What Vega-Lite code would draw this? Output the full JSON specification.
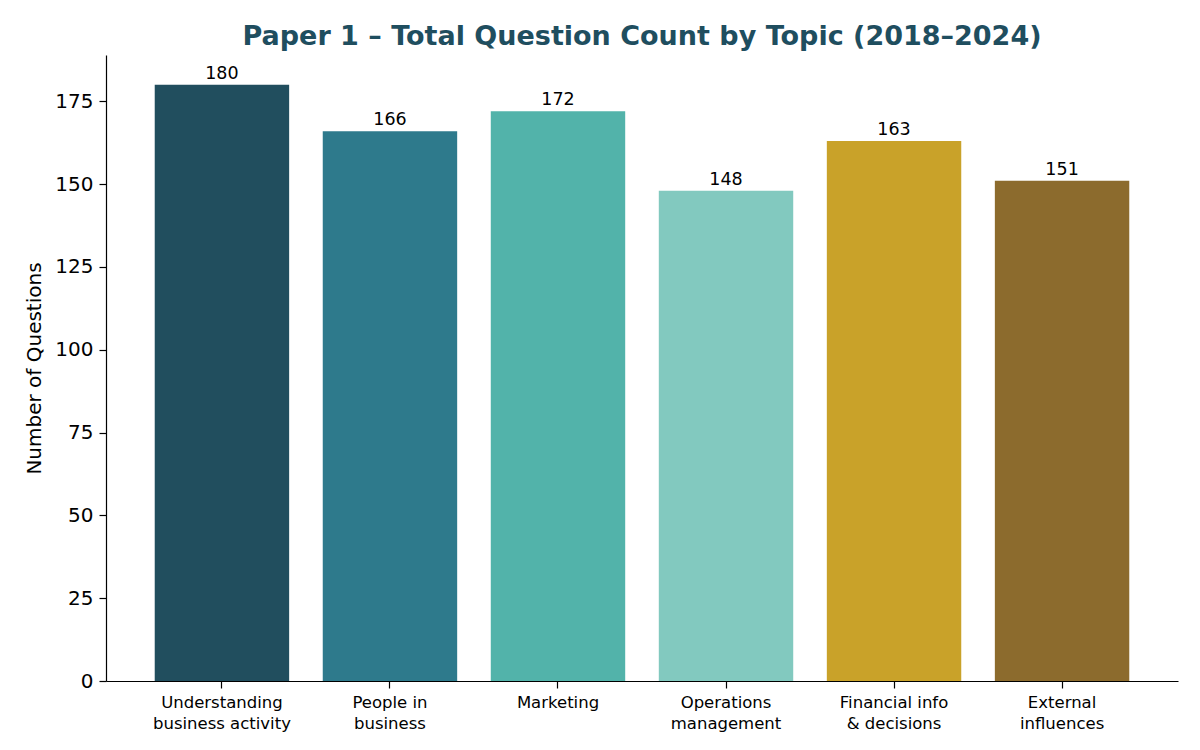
{
  "$schema": "https://vega.github.io/schema/vega-lite/v6.json",
  "width": 1072,
  "height": 626,
  "autosize": "none",
  "padding": {"left": 106, "top": 55, "right": 22, "bottom": 69},
  "background": "white",
  "title": {
    "text": "Paper 1 – Total Question Count by Topic (2018–2024)",
    "font": "DejaVu Sans",
    "fontSize": 27,
    "fontWeight": "bold",
    "color": "#1F4E5F",
    "anchor": "middle",
    "offset": 4
  },
  "data": {
    "values": [
      {"topic": "Understanding|business activity", "count": 180},
      {"topic": "People in|business", "count": 166},
      {"topic": "Marketing", "count": 172},
      {"topic": "Operations|management", "count": 148},
      {"topic": "Financial info|& decisions", "count": 163},
      {"topic": "External|influences", "count": 151}
    ]
  },
  "encoding": {
    "x": {
      "field": "topic",
      "type": "nominal",
      "sort": null,
      "scale": {"paddingInner": 0.2, "paddingOuter": 0.29},
      "axis": {
        "title": null,
        "labelAngle": 0,
        "labelExpr": "split(datum.label, '|')",
        "labelFontSize": 16.5,
        "labelLineHeight": 21,
        "labelPadding": 6,
        "tickSize": 7
      }
    },
    "y": {
      "field": "count",
      "type": "quantitative",
      "scale": {"domain": [0, 189], "nice": false, "zero": true},
      "axis": {
        "title": "Number of Questions",
        "values": [0, 25, 50, 75, 100, 125, 150, 175],
        "grid": false,
        "labelFontSize": 20,
        "titleFontSize": 20,
        "titleFontWeight": "normal",
        "titlePadding": 10,
        "labelPadding": 6,
        "tickSize": 7
      }
    }
  },
  "layer": [
    {
      "mark": {"type": "bar"},
      "encoding": {
        "color": {
          "field": "topic",
          "type": "nominal",
          "legend": null,
          "scale": {
            "domain": [
              "Understanding|business activity",
              "People in|business",
              "Marketing",
              "Operations|management",
              "Financial info|& decisions",
              "External|influences"
            ],
            "range": ["#214E5E", "#2E7A8C", "#52B3AA", "#82C9BF", "#C9A229", "#8C6B2D"]
          }
        }
      }
    },
    {
      "mark": {
        "type": "text",
        "baseline": "alphabetic",
        "dy": -6,
        "font": "DejaVu Sans",
        "fontSize": 17.5,
        "color": "black"
      },
      "encoding": {
        "text": {"field": "count", "type": "quantitative"}
      }
    }
  ],
  "config": {
    "view": {"stroke": null},
    "axis": {
      "labelFont": "DejaVu Sans",
      "titleFont": "DejaVu Sans",
      "labelColor": "black",
      "titleColor": "black",
      "domainColor": "black",
      "tickColor": "black",
      "domainWidth": 1.2,
      "tickWidth": 1.2
    }
  }
}
